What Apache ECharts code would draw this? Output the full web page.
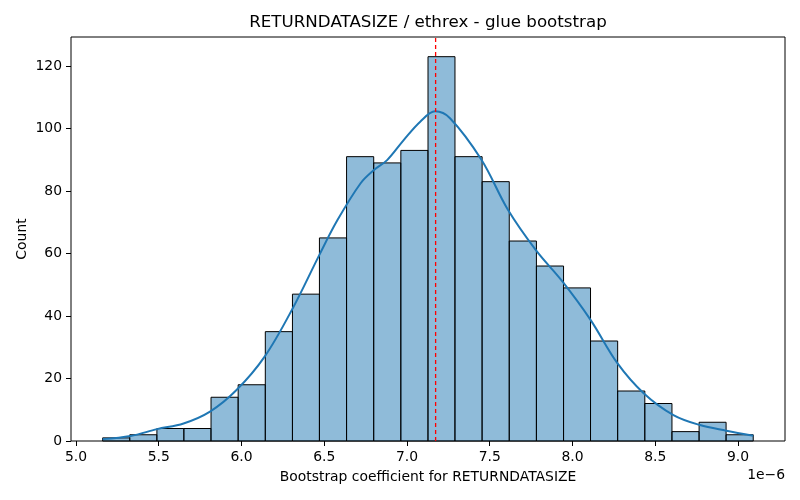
<!DOCTYPE html>
<html>
<head>
<meta charset="utf-8">
<script src="https://cdn.jsdelivr.net/npm/echarts@6/dist/echarts.min.js"></script>
<style>
  html, body { margin: 0; padding: 0; background: #fff; }
  #chart { width: 800px; height: 500px; }
</style>
</head>
<body>
<div id="chart"></div>
<script>
// values in units of 1e-6
const binEdges = [5.161, 5.325, 5.489, 5.652, 5.816, 5.980, 6.144, 6.308, 6.471, 6.635, 6.799, 6.963,
    7.127, 7.290, 7.454, 7.618, 7.782, 7.946, 8.109, 8.273, 8.437, 8.601, 8.765, 8.928, 9.092];
const counts = [1, 2, 4, 4, 14, 18, 35, 47, 65, 91, 89, 93, 123, 91, 83, 64, 56, 49, 32, 16, 12, 3, 6, 2];

const kdeX = [5.161, 5.33, 5.49, 5.65, 5.81, 5.97, 6.14, 6.31, 6.47, 6.58, 6.72, 6.80, 6.88, 6.98,
    7.08, 7.17, 7.26, 7.45, 7.61, 7.78, 7.94, 8.11, 8.27, 8.43, 8.61, 8.77, 8.93, 9.092];
const kdeY = [0.6, 1.6, 3.8, 5.6, 9.4, 16.3, 27, 42.5, 59.5, 70.7, 82.5, 86.7, 89.9, 96.3,
    102.2, 105.5, 103.3, 90, 74, 61, 51, 38.7, 25, 15.3, 8.3, 5.1, 3.3, 1.7];

const meanLine = 7.173;
const xTicks = [5.0, 5.5, 6.0, 6.5, 7.0, 7.5, 8.0, 8.5, 9.0];
const yTicks = [0, 20, 40, 60, 80, 100, 120];

const font = 'DejaVu Sans';
const bins = counts.map((c, i) => [binEdges[i], binEdges[i + 1], c]);

const chart = echarts.init(document.getElementById('chart'));
chart.setOption({
    animation: false,
    grid: {
        left: 71, right: 15, top: 37, bottom: 59,
        show: true, borderColor: '#000', borderWidth: 1
    },
    xAxis: {
        type: 'value',
        min: 4.970, max: 9.284,
        axisLine: {show: false},
        splitLine: {show: false},
        axisTick: {show: true, customValues: xTicks, length: 5, lineStyle: {color: '#000'}},
        axisLabel: {
            customValues: xTicks, margin: 9,
            fontFamily: font, fontSize: 13.9, color: '#000',
            formatter: v => v.toFixed(1)
        }
    },
    yAxis: {
        type: 'value',
        min: 0, max: 129.3,
        axisLine: {show: false},
        splitLine: {show: false},
        axisTick: {show: true, customValues: yTicks, length: 5, lineStyle: {color: '#000'}},
        axisLabel: {
            customValues: yTicks, margin: 9,
            fontFamily: font, fontSize: 13.9, color: '#000'
        }
    },
    series: [
        {
            type: 'custom',
            data: bins,
            renderItem: (params, api) => {
                const p0 = api.coord([api.value(0), api.value(2)]);
                const p1 = api.coord([api.value(1), 0]);
                return {
                    type: 'rect',
                    shape: {x: p0[0], y: p0[1], width: p1[0] - p0[0], height: p1[1] - p0[1]},
                    style: {fill: 'rgba(31,119,180,0.5)', stroke: '#000', lineWidth: 1}
                };
            },
            encode: {x: [0, 1], y: 2},
            z: 1
        },
        {
            type: 'line',
            data: kdeX.map((x, i) => [x, kdeY[i]]),
            smooth: 0.35,
            symbol: 'none',
            lineStyle: {color: '#1f77b4', width: 2},
            z: 3
        },
        {
            // dashed vertical marker
            type: 'line',
            data: [[meanLine, 0], [meanLine, 129.3]],
            symbol: 'none',
            itemStyle: {color: '#ff0000'},
            lineStyle: {color: '#ff0000', type: [4, 3], width: 1.3},
            z: 4
        }
    ],
    graphic: [
        {
            type: 'text', x: 428, y: 14,
            style: {text: 'RETURNDATASIZE / ethrex - glue bootstrap', font: '16.7px "DejaVu Sans"', fill: '#000', align: 'center'}
        },
        {
            type: 'text', x: 428, y: 470,
            style: {text: 'Bootstrap coefficient for RETURNDATASIZE', font: '13.9px "DejaVu Sans"', fill: '#000', align: 'center'}
        },
        {
            type: 'text', x: 15, y: 239, rotation: Math.PI / 2,
            style: {text: 'Count', font: '13.9px "DejaVu Sans"', fill: '#000', align: 'center', verticalAlign: 'top'}
        },
        {
            type: 'text', x: 785, y: 468,
            style: {text: '1e\u22126', font: '13.9px "DejaVu Sans"', fill: '#000', align: 'right'}
        }
    ]
});
</script>
</body>
</html>
